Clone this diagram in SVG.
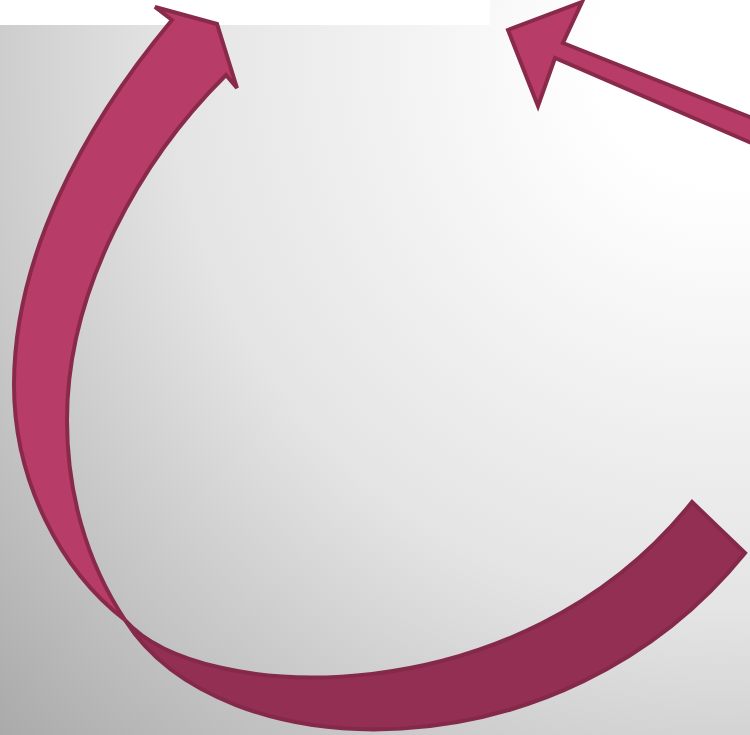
<svg xmlns="http://www.w3.org/2000/svg" width="750" height="735" viewBox="0 0 750 735">
  <defs>
    <radialGradient id="bg" gradientUnits="userSpaceOnUse" cx="720" cy="60" r="1000">
      <stop offset="0" stop-color="#ffffff"/>
      <stop offset="0.12" stop-color="#ffffff"/>
      <stop offset="0.55" stop-color="#e4e4e4"/>
      <stop offset="1" stop-color="#a8a8a8"/>
    </radialGradient>
  </defs>
  <style>
    .front { fill: #b83c68; stroke: #8a2a4b; stroke-width: 4; stroke-linejoin: miter; }
    .back { fill: #922f52; stroke: #85294a; stroke-width: 4; stroke-linejoin: miter; }
  </style>
  <g id="background">
    <rect x="0" y="0" width="750" height="735" fill="url(#bg)"/>
    <rect x="0" y="0" width="490" height="25" fill="#ffffff"/>
  </g>
  <g id="connectors">
    <g id="curved-arrow">
      <path class="back" d="M125,620 C200,705 520,718 692,502 L745,553 C560,782 220,770 125,620 Z"/>
      <path class="front" d="M125,620 C60,570 14,480 14,385 C14,260 80,130 172,20 L155,7 L217,24 L237,88 L226,75 C140,160 67,290 67,420 C67,490 85,560 125,620 Z"/>
    </g>
    <g id="straight-arrow">
      <path class="front" d="M508,30 L582,2 L563,43 L770,125 L770,151 L555,58 L538,106 Z"/>
    </g>
  </g>
</svg>
